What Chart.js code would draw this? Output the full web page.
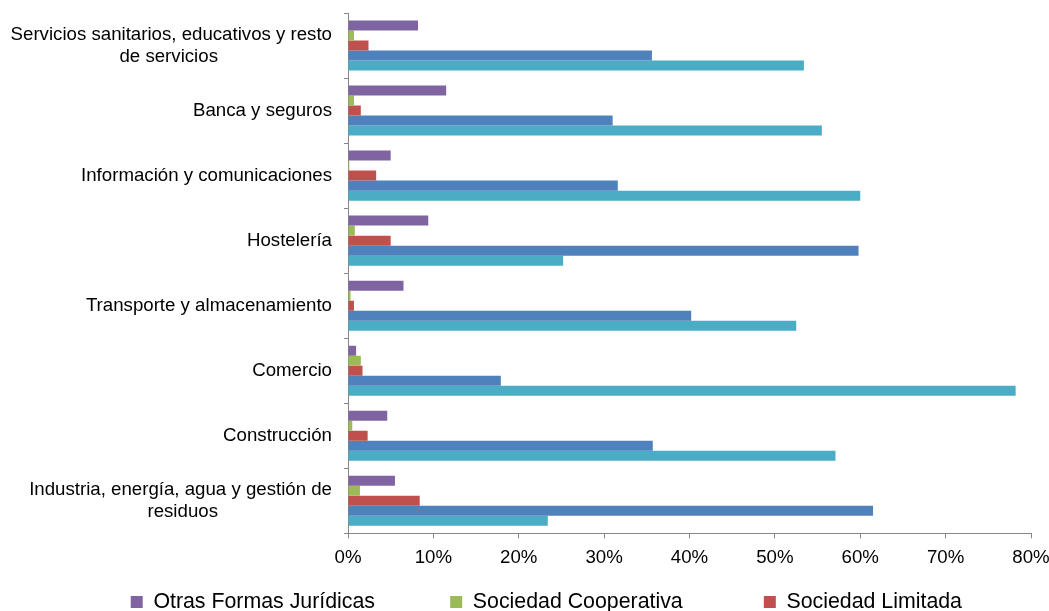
<!DOCTYPE html>
<html>
<head>
<meta charset="utf-8">
<script src="https://cdn.jsdelivr.net/npm/chart.js@4/dist/chart.umd.min.js"></script>
<style>
  html, body { margin: 0; padding: 0; background: #ffffff; overflow: hidden; }
  #wrap { position: relative; width: 1049px; height: 654px; }
</style>
</head>
<body>
<div id="wrap"><canvas id="c"></canvas></div>
<script>
// ---- Data (% of companies) ----
const categories = [
  ['Servicios sanitarios, educativos y resto', 'de servicios'],
  ['Banca y seguros'],
  ['Información y comunicaciones'],
  ['Hostelería'],
  ['Transporte y almacenamiento'],
  ['Comercio'],
  ['Construcción'],
  ['Industria, energía, agua y gestión de', 'residuos']
];
const seriesNames = ['Otras Formas Jurídicas', 'Sociedad Cooperativa', 'Sociedad Limitada', 'Sociedad Anónima', 'Persona Física'];
const otrasFormas   = [8.2, 11.5, 5.0, 9.4, 6.5, 0.95, 4.6, 5.5];
const cooperativa   = [0.7, 0.7, 0.15, 0.8, 0.3, 1.5, 0.5, 1.4];
const limitada      = [2.4, 1.5, 3.3, 5.0, 0.7, 1.7, 2.3, 8.4];
const anonima       = [35.6, 31.0, 31.6, 59.8, 40.2, 17.9, 35.7, 61.5];
const personaFisica = [53.4, 55.5, 60.0, 25.2, 52.5, 78.2, 57.1, 23.4];
const xTicks = [0, 10, 20, 30, 40, 50, 60, 70, 80];

// ---- Styling ----
const FONT_FAMILY = "'Liberation Sans', Arial, sans-serif";
const AXIS_FONT = 18.67;
const LEGEND_FONT = 21.33;
const AXIS_COLOR = '#868686';
const colors = ['#8064A2', '#9BBB59', '#C0504D', '#4F81BD', '#4BACC6'];
const legendTrail = [11, 12, 13, 0, 0];

const mctx = document.createElement('canvas').getContext('2d');
mctx.font = AXIS_FONT + 'px ' + FONT_FAMILY;
function centerLines(lines) {
  if (lines.length < 2) return lines[0];
  const widths = lines.map(l => mctx.measureText(l).width);
  const maxW = Math.max(...widths);
  const sp = mctx.measureText(' ').width;
  return lines.map((l, i) => l + ' '.repeat(Math.round((maxW - widths[i]) / 2 / sp)));
}

const seriesValues = [otrasFormas, cooperativa, limitada, anonima, personaFisica];
const datasets = seriesValues.map((vals, i) => ({
  label: seriesNames[i],
  data: vals,
  backgroundColor: colors[i],
  borderWidth: 0,
  categoryPercentage: 0.77,
  barPercentage: 1.0
}));

new Chart(document.getElementById('c'), {
  type: 'bar',
  data: { labels: categories.map(c => c.join(' ')), datasets },
  options: {
    indexAxis: 'y',
    responsive: true,
    maintainAspectRatio: false,
    animation: false,
    layout: { padding: { top: 13, right: 0, bottom: 0, left: 0 } },
    plugins: {
      tooltip: { enabled: false },
      legend: {
        position: 'bottom',
        align: 'end',
        labels: {
          color: '#000000',
          font: { family: FONT_FAMILY, size: LEGEND_FONT },
          boxWidth: 12,
          boxHeight: 12,
          padding: 10,
          generateLabels(chart) {
            const items = Chart.defaults.plugins.legend.labels.generateLabels(chart);
            items.forEach((it, i) => { it.text = it.text + ' '.repeat(legendTrail[i] || 0); });
            return items;
          }
        }
      }
    },
    scales: {
      x: {
        type: 'linear',
        min: 0,
        max: 80,
        afterBuildTicks(scale) { scale.ticks = xTicks.map(v => ({ value: v })); },
        afterFit(scale) { scale.height = 48; scale.paddingLeft = 0; scale.paddingRight = 18; },
        ticks: {
          color: '#000000',
          font: { family: FONT_FAMILY, size: AXIS_FONT },
          padding: 8,
          maxRotation: 0,
          callback: v => v + '%'
        },
        grid: { display: true, drawOnChartArea: false, drawTicks: true, tickLength: 5, color: AXIS_COLOR, lineWidth: 1 },
        border: { display: true, color: AXIS_COLOR, width: 1 }
      },
      y: {
        type: 'category',
        offset: true,
        afterFit(scale) { scale.width = 348; scale.paddingTop = 0; scale.paddingBottom = 0; },
        ticks: {
          color: '#000000',
          font: { family: FONT_FAMILY, size: AXIS_FONT, lineHeight: 1.18 },
          padding: 12,
          autoSkip: false,
          callback: (value, index) => centerLines(categories[index])
        },
        grid: { display: true, offset: true, drawOnChartArea: false, drawTicks: true, tickLength: 4, color: AXIS_COLOR, lineWidth: 1 },
        border: { display: true, color: AXIS_COLOR, width: 1 }
      }
    }
  }
});
</script>
</body>
</html>
